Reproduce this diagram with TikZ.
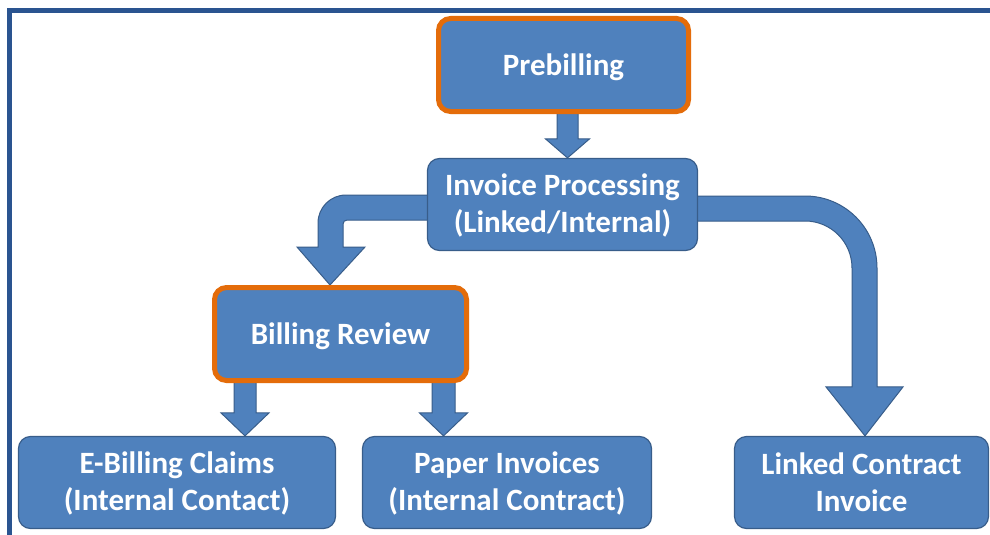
\documentclass[tikz,border=0pt]{standalone}
\usepackage{fontspec}
\setmainfont{Carlito}
\usetikzlibrary{calc,backgrounds}

\definecolor{boxblue}{RGB}{79,129,189}
\definecolor{boxedge}{RGB}{56,93,138}
\definecolor{hilite}{RGB}{228,108,10}
\definecolor{framecol}{RGB}{42,84,144}

\tikzset{
  box/.style={rectangle, rounded corners=12pt, fill=boxblue, draw=boxedge,
    line width=1.2pt, text=white, align=center, inner sep=0pt,
    font=\bfseries\fontsize{31}{37}\selectfont},
  parenbox/.style={box, text depth=3pt},
  keybox/.style={box, draw=hilite, line width=5pt, text depth=0pt},
  blockarrow/.style={fill=boxblue, draw=boxedge, line width=1pt, line join=miter},
}

% straight downward block arrow: source, target, centre x, shaft half width,
% head half width, head length
\newcommand\blockdown[6]{%
  \path[blockarrow] let \p1=(#1.south), \p2=(#2.north) in
    (#3-#4,\y1+3pt) -- (#3+#4,\y1+3pt) -- (#3+#4,\y2+#6pt) -- (#3+#5,\y2+#6pt)
    -- (#3,\y2) -- (#3-#5,\y2+#6pt) -- (#3-#4,\y2+#6pt) -- cycle;}

\begin{document}
\begin{tikzpicture}[x=1pt,y=1pt]
  \useasboundingbox (0,0) rectangle (990,-535);

  % frame lines along the top and left edge
  \draw[framecol, line width=5.5pt] (9.5,-535) -- (9.5,-10.5) -- (990,-10.5);

  % process boxes
  \node[keybox, minimum width=250pt, minimum height=93pt] (pre) at (563.5,-65) {Prebilling};
  \node[parenbox, minimum width=270pt, minimum height=92pt] (inv) at (562.5,-204.5)
    {Invoice Processing\\(Linked/Internal)};
  \node[keybox, minimum width=252pt, minimum height=93pt] (rev) at (340.5,-334) {Billing Review};
  \node[parenbox, minimum width=317pt, minimum height=92pt] (ebill) at (177,-482.5)
    {E-Billing Claims\\(Internal Contact)};
  \node[parenbox, minimum width=289pt, minimum height=92pt] (paper) at (507,-482.5)
    {Paper Invoices\\(Internal Contract)};
  \node[box, minimum width=254pt, minimum height=92pt] (link) at (861.5,-482.5)
    {Linked Contract\\Invoice};

  \begin{scope}[on background layer]
    \fill[white] (0,0) rectangle (990,-535);

    % straight arrows
    \blockdown{pre}{inv}{567.5}{10.5}{22}{19}
    \blockdown{rev}{ebill}{245}{11}{24}{23}
    \blockdown{rev}{paper}{443.5}{11.5}{24}{23}

    % bent arrow to the left, into Billing Review
    \path[blockarrow] let \p1=(inv.west), \p2=(rev.north) in
      (\x1+4pt,-195) -- (346,-195) arc[start angle=90, end angle=180, radius=28]
      -- (318,\y2+38pt) -- (297,\y2+38pt) -- (330,\y2) -- (365,\y2+38pt)
      -- (343,\y2+38pt) -- (343,-224) arc[start angle=180, end angle=90, radius=4]
      -- (\x1+4pt,-220) -- cycle;

    % bent arrow to the right, into Linked Contract Invoice
    \path[blockarrow] let \p1=(inv.east), \p2=(link.north) in
      (\x1-4pt,-196) -- (805,-196) arc[start angle=90, end angle=0, radius=72]
      -- (877,\y2+49pt) -- (903,\y2+49pt) -- (865,\y2) -- (826,\y2+49pt)
      -- (852,\y2+49pt) -- (852,-268) arc[start angle=0, end angle=90, radius=47]
      -- (\x1-4pt,-221) -- cycle;
  \end{scope}
\end{tikzpicture}
\end{document}
